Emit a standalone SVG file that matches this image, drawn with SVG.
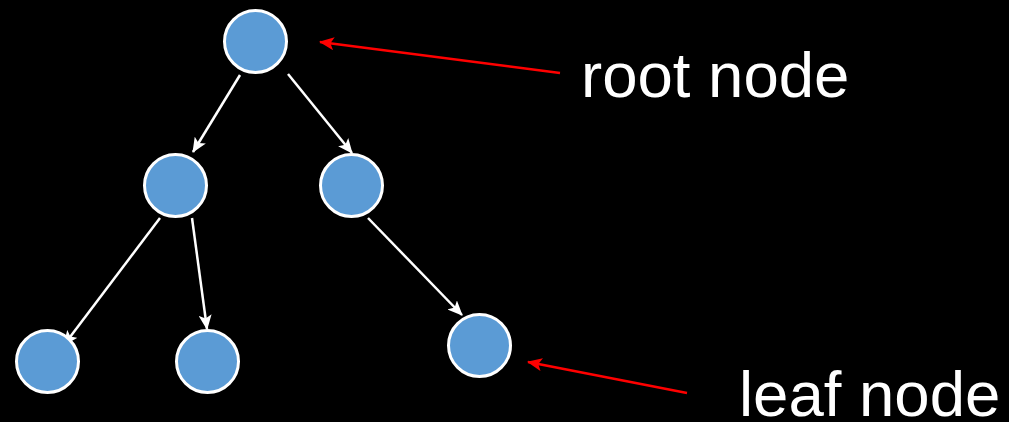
<svg xmlns="http://www.w3.org/2000/svg" width="1009" height="422" viewBox="0 0 1009 422">
<style>
.node{fill:#5b9bd5;stroke:#ffffff;stroke-width:3}
.edge{stroke:#ffffff;stroke-width:2.5;fill:none}
.callout{stroke:#ff0000;stroke-width:2.5;fill:none}
.label{font-family:"Liberation Sans",Arial,sans-serif;font-size:63.5px;fill:#ffffff}
</style>
<defs>
<marker id="aw" markerUnits="userSpaceOnUse" markerWidth="15" markerHeight="13" viewBox="0 0 15 13" refX="14" refY="6.5" orient="auto">
<path d="M0,0 L15,6.5 L0,13 L3.5,6.5 Z" fill="#ffffff"/>
</marker>
<marker id="ar" markerUnits="userSpaceOnUse" markerWidth="15" markerHeight="13" viewBox="0 0 15 13" refX="14" refY="6.5" orient="auto">
<path d="M0,0 L15,6.5 L0,13 L3.5,6.5 Z" fill="#ff0000"/>
</marker>
</defs>
<rect width="1009" height="422" fill="#000000"/>
<g id="connectors">
<line class="edge" x1="240" y1="75" x2="193" y2="152" marker-end="url(#aw)"/>
<line class="edge" x1="288" y1="74" x2="352" y2="153" marker-end="url(#aw)"/>
<line class="edge" x1="160" y1="218" x2="64" y2="345" marker-end="url(#aw)"/>
<line class="edge" x1="192" y1="218" x2="207" y2="329" marker-end="url(#aw)"/>
<line class="edge" x1="368" y1="218" x2="462" y2="315" marker-end="url(#aw)"/>
<line class="callout" x1="560" y1="73" x2="320" y2="42" marker-end="url(#ar)"/>
<line class="callout" x1="687" y1="393" x2="528" y2="362" marker-end="url(#ar)"/>
</g>
<g id="root"><circle class="node" cx="255.5" cy="41.5" r="31"/></g>
<g id="left"><circle class="node" cx="175.5" cy="185.5" r="31"/></g>
<g id="right"><circle class="node" cx="351.5" cy="185.5" r="31"/></g>
<g id="leaf1"><circle class="node" cx="47.5" cy="361.5" r="31"/></g>
<g id="leaf2"><circle class="node" cx="207.5" cy="361.5" r="31"/></g>
<g id="leaf3"><circle class="node" cx="479.5" cy="345.5" r="31"/></g>
<g id="label-root"><text class="label" x="581" y="97">root node</text></g>
<g id="label-leaf"><text class="label" x="739" y="416">leaf node</text></g>
</svg>
